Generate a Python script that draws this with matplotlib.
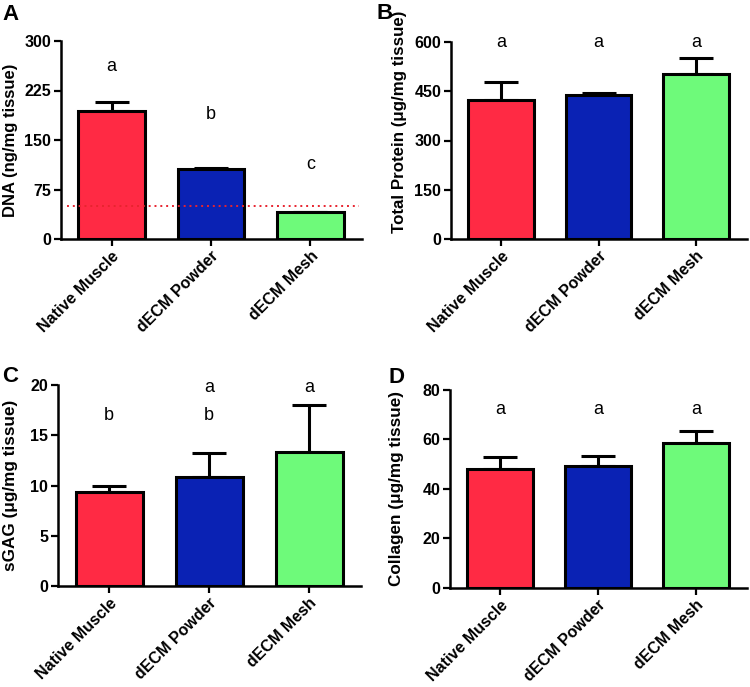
import matplotlib
matplotlib.use("Agg")
import matplotlib.pyplot as plt
import matplotlib.transforms as mtransforms
import numpy as np

plt.rcParams['font.family'] = ['Liberation Sans', 'DejaVu Sans']

categories = ["Native Muscle", "dECM Powder", "dECM Mesh"]
colors = ["#FF2A44", "#0A22B4", "#6EFA7A"]

dna_mean = [194, 106, 40.5]
dna_err = [14, 2, 1]
dna_letters = ["a", "b", "c"]
dna_letter_y = [261, 188, 113]
dna_threshold = 50

prot_mean = [423, 440, 504]
prot_err = [55, 5, 48]
prot_letters = ["a", "a", "a"]
prot_letter_y = [598, 598, 598]

sgag_mean = [9.4, 10.8, 13.3]
sgag_err = [0.6, 2.4, 4.7]
sgag_letters_low = ["b", "b", ""]
sgag_letters_high = ["", "a", "a"]

coll_mean = [48.2, 49.4, 58.4]
coll_err = [4.6, 3.9, 4.9]
coll_letters = ["a", "a", "a"]
coll_letter_y = [72.3, 72.3, 72.3]

W, H = 750, 687
fig = plt.figure(figsize=(W / 100, H / 100), dpi=100)


def make_ax(left, right, top, bottom):
    return fig.add_axes([left / W, 1 - bottom / H, (right - left) / W, (bottom - top) / H])


def draw(ax, means, errs, yticks, ylabel, ylabel_size):
    x = np.arange(len(categories))
    ax.bar(x, means, width=0.67, color=colors, edgecolor="black", linewidth=2.2, zorder=3)
    ax.errorbar(x, means, yerr=[np.zeros(len(errs)), errs], fmt="none", ecolor="black",
                elinewidth=2.2, capsize=12, capthick=2.2, zorder=2)
    ax.set_xlim(-0.51, 2.52)
    ax.set_ylim(yticks[0], yticks[-1])
    ax.set_yticks(yticks)
    ax.set_yticklabels([str(t) for t in yticks], fontweight="bold", fontsize=11.5)
    ax.set_xticks(x)
    ax.set_xticklabels(categories, rotation=45, ha="right", va="top", rotation_mode="anchor",
                       fontweight="bold", fontsize=11.5)
    offset = mtransforms.ScaledTranslation(-8 / 100, -5 / 100, fig.dpi_scale_trans)
    for lbl in ax.get_xticklabels():
        lbl.set_transform(lbl.get_transform() + offset)
    for s in ["top", "right"]:
        ax.spines[s].set_visible(False)
    for s in ["left", "bottom"]:
        ax.spines[s].set_linewidth(1.8)
    ax.tick_params(axis="both", direction="out", length=5, width=1.6, pad=2)
    ax.set_ylabel(ylabel, fontweight="bold", fontsize=ylabel_size)


# Panel A
axA = make_ax(61, 362, 41, 239)
draw(axA, dna_mean, dna_err, [0, 75, 150, 225, 300], "DNA (ng/mg tissue)", 12)
axA.axhline(dna_threshold, xmin=0.02, xmax=0.99, color="#E8242F", linestyle=(0, (1, 2)), linewidth=1.4, zorder=4)
for i, (t, y) in enumerate(zip(dna_letters, dna_letter_y)):
    axA.text(i, y, t, ha="center", va="center", fontsize=13)
axA.yaxis.set_label_coords((18 - 61) / 301, 0.5)

# Panel B
axB = make_ax(451, 747, 42, 239)
draw(axB, prot_mean, prot_err, [0, 150, 300, 450, 600], "Total Protein (μg/mg tissue)", 12.2)
for i, (t, y) in enumerate(zip(prot_letters, prot_letter_y)):
    axB.text(i, y, t, ha="center", va="center", fontsize=13)
axB.yaxis.set_label_coords((407 - 451) / 296, (239 - 122) / 197)

# Panel C
axC = make_ax(58, 361, 385, 586)
draw(axC, sgag_mean, sgag_err, [0, 5, 10, 15, 20], "sGAG (μg/mg tissue)", 12.3)
for i, t in enumerate(sgag_letters_low):
    if t:
        axC.text(i, 17.0, t, ha="center", va="center", fontsize=13)
for i, t in enumerate(sgag_letters_high):
    if t:
        axC.text(i, 19.8, t, ha="center", va="center", fontsize=13)
axC.yaxis.set_label_coords((18 - 58) / 303, 0.5)

# Panel D
axD = make_ax(450, 747, 390, 587.7)
draw(axD, coll_mean, coll_err, [0, 20, 40, 60, 80], "Collagen (μg/mg tissue)", 12.3)
for i, (t, y) in enumerate(zip(coll_letters, coll_letter_y)):
    axD.text(i, y, t, ha="center", va="center", fontsize=13)
axD.yaxis.set_label_coords((404 - 450) / 297, 0.5)

# Panel letters
for lab, px, py in [("A", 2, 4), ("B", 376, 3), ("C", 2, 366), ("D", 388, 367)]:
    fig.text(px / W, 1 - py / H, lab, fontsize=16, fontweight="bold", ha="left", va="top")

fig.savefig("out.png", dpi=100)
